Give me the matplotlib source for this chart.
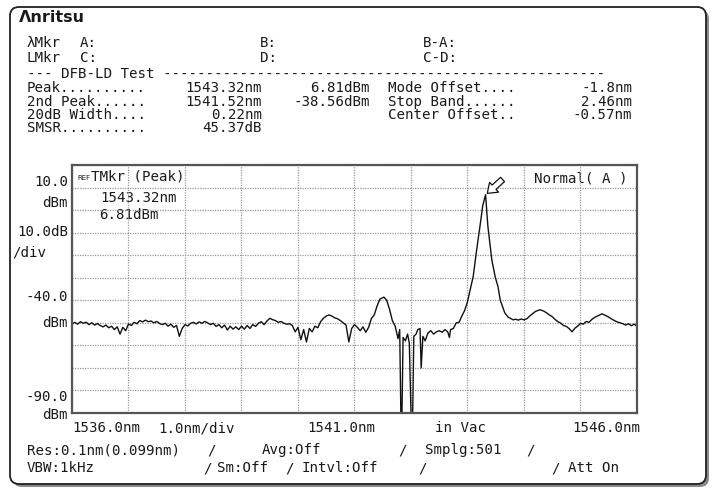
import matplotlib
matplotlib.use("Agg")
import matplotlib.pyplot as plt
from matplotlib.patches import FancyBboxPatch

# ----- Trace (wavelength nm, level dBm) -----
wavelength = [
    1536.00, 1536.05, 1536.10, 1536.15, 1536.20, 1536.25, 1536.30, 1536.35, 1536.40, 1536.45,
    1536.50, 1536.55, 1536.60, 1536.65, 1536.70, 1536.75, 1536.80, 1536.85, 1536.90, 1536.95,
    1537.00, 1537.05, 1537.10, 1537.15, 1537.20, 1537.25, 1537.30, 1537.35, 1537.40, 1537.45,
    1537.50, 1537.55, 1537.60, 1537.65, 1537.70, 1537.75, 1537.80, 1537.85, 1537.90, 1537.95,
    1538.00, 1538.05, 1538.10, 1538.15, 1538.20, 1538.25, 1538.30, 1538.35, 1538.40, 1538.45,
    1538.50, 1538.55, 1538.60, 1538.65, 1538.70, 1538.75, 1538.80, 1538.85, 1538.90, 1538.95,
    1539.00, 1539.05, 1539.10, 1539.15, 1539.20, 1539.25, 1539.30, 1539.35, 1539.40, 1539.45,
    1539.50, 1539.55, 1539.60, 1539.65, 1539.70, 1539.75, 1539.80, 1539.85, 1539.90, 1539.95,
    1540.00, 1540.05, 1540.10, 1540.15, 1540.20, 1540.25, 1540.30, 1540.35, 1540.40, 1540.45,
    1540.50, 1540.55, 1540.60, 1540.65, 1540.70, 1540.75, 1540.80, 1540.85, 1540.90, 1540.95,
    1541.00, 1541.05, 1541.10, 1541.15, 1541.20, 1541.25, 1541.30, 1541.35, 1541.40, 1541.45,
    1541.52, 1541.57, 1541.62, 1541.67, 1541.72, 1541.77, 1541.80, 1541.82, 1541.84, 1541.86,
    1541.90, 1541.94, 1541.97, 1542.00, 1542.03, 1542.05, 1542.09, 1542.12, 1542.16, 1542.18,
    1542.21, 1542.25, 1542.30, 1542.35, 1542.40, 1542.45, 1542.50, 1542.55, 1542.60, 1542.65,
    1542.68, 1542.70, 1542.75, 1542.80, 1542.85, 1542.90, 1542.95, 1543.00, 1543.05, 1543.10,
    1543.16, 1543.22, 1543.27, 1543.32, 1543.36, 1543.43, 1543.49, 1543.54, 1543.58, 1543.66,
    1543.72, 1543.81, 1543.85, 1543.90, 1543.95, 1544.00, 1544.05, 1544.10, 1544.15, 1544.20,
    1544.28, 1544.35, 1544.40, 1544.45, 1544.50, 1544.55, 1544.60, 1544.64, 1544.70, 1544.75,
    1544.80, 1544.85, 1544.90, 1544.95, 1545.00, 1545.05, 1545.10, 1545.15, 1545.20, 1545.25,
    1545.30, 1545.38, 1545.45, 1545.50, 1545.55, 1545.60, 1545.65, 1545.70, 1545.75, 1545.80,
    1545.85, 1545.90, 1545.95, 1546.00,
]
level = [
    -50.5, -49.8, -50.6, -49.5, -50.2, -49.7, -50.8, -50.0, -51.0, -50.3,
    -51.2, -51.8, -51.0, -52.2, -51.5, -53.0, -51.8, -55.0, -52.0, -53.5,
    -50.5, -51.2, -49.8, -50.4, -49.0, -49.6, -48.8, -49.5, -49.2, -50.0,
    -49.4, -50.3, -50.8, -50.2, -51.5, -50.6, -52.0, -51.2, -56.0, -52.5,
    -50.8, -51.4, -50.2, -49.8, -50.5, -49.6, -50.2, -49.4, -50.0, -50.8,
    -50.2, -51.6, -50.8, -52.2, -51.0, -53.2, -51.5, -52.8, -51.8, -53.0,
    -51.5, -52.8, -51.2, -52.5, -50.8, -51.6, -50.2, -49.5, -50.8, -49.2,
    -48.0, -48.6, -49.0, -49.8, -49.4, -50.2, -50.6, -50.4, -51.2, -54.0,
    -52.0, -57.5, -53.0, -58.5, -52.5, -54.0, -51.5, -52.2, -49.5, -48.0,
    -47.0, -46.5, -47.0, -47.8, -48.2, -49.0, -50.0, -51.0, -58.5, -52.5,
    -50.8, -52.0, -53.5, -51.8, -54.2, -52.0, -48.0, -46.5, -42.5, -39.5,
    -38.6, -40.0, -44.0, -49.0, -51.5, -57.0, -53.0, -90.0, -90.0, -56.5,
    -58.0, -55.0, -59.0, -90.0, -90.0, -56.0, -55.0, -53.0, -52.5, -70.0,
    -56.0, -58.0, -54.5, -53.5, -55.0, -54.0, -53.5, -54.2, -53.0, -54.0,
    -56.5, -53.0, -52.5, -50.0, -49.8, -47.0, -44.5, -40.7, -35.0, -29.6,
    -18.0, -7.3, 2.0, 6.81, -7.0, -22.0, -29.6, -34.0, -40.0, -45.6,
    -47.5, -48.7, -48.4, -48.8, -48.3, -48.7, -48.2, -47.0, -46.0, -45.0,
    -44.2, -44.8, -45.6, -46.5, -47.3, -48.5, -49.5, -50.0, -51.2, -51.6,
    -52.6, -54.0, -52.4, -51.5, -50.2, -50.6, -49.4, -49.8, -48.5, -47.6,
    -47.0, -46.0, -46.8, -47.5, -48.3, -49.0, -49.6, -50.0, -50.4, -51.0,
    -50.4, -51.3, -50.6, -51.5,
]
peak_nm = 1543.32
peak_dbm = 6.81

x_grid = [1536, 1537, 1538, 1539, 1540, 1541, 1542, 1543, 1544, 1545, 1546]
y_grid = [-90, -80, -70, -60, -50, -40, -30, -20, -10, 0, 10, 20]

# ----- Header texts -----
mkr_rows = [("λMkr", "A:", "B:", "B-A:"), ("LMkr", "C:", "D:", "C-D:")]
test_rows = ["Peak..........", "2nd Peak......", "20dB Width....", "SMSR.........."]
test_nm = ["1543.32nm", "1541.52nm", "0.22nm", "45.37dB"]
test_dbm = ["6.81dBm", "-38.56dBm", "", ""]
side_rows = ["Mode Offset....", "Stop Band......", "Center Offset.."]
side_vals = ["-1.8nm", "2.46nm", "-0.57nm"]

W, H = 718, 488
MONO = "DejaVu Sans Mono"
FS = 10.2
INK = "#1a1a1a"

fig = plt.figure(figsize=(W / 100, H / 100), dpi=100)
fig.patch.set_facecolor("white")

# background axes in pixel coords for the frame and all the labels
bg = fig.add_axes([0, 0, 1, 1])
bg.set_xlim(0, W)
bg.set_ylim(H, 0)
bg.axis("off")

shadow = FancyBboxPatch((13, 10), 696, 477, boxstyle="round,pad=0,rounding_size=9",
                        fc="#8a8a8a", ec="none", zorder=0)
box = FancyBboxPatch((10, 7), 696, 477, boxstyle="round,pad=0,rounding_size=9",
                     fc="white", ec="#222222", lw=1.3, zorder=0.5)
bg.add_patch(shadow)
bg.add_patch(box)


def t(x, y, s, ha="left", size=FS, **kw):
    bg.text(x, y, s, ha=ha, va="center", fontsize=size, family=MONO, color=INK, **kw)


# logo
bg.text(19, 17, "Λnritsu", ha="left", va="center", fontsize=11.5, fontweight="bold",
        family="DejaVu Sans", color=INK)

# marker rows
for (lab, a, b, c), y in zip(mkr_rows, [43, 58]):
    t(27, y, lab)
    t(80, y, a)
    t(260, y, b)
    t(423, y, c)

t(27, 74, "--- DFB-LD Test " + "-" * 52)

for i, y in enumerate([88, 102, 115, 128]):
    t(27, y, test_rows[i])
    t(262, y, test_nm[i], ha="right")
    if test_dbm[i]:
        t(370, y, test_dbm[i], ha="right")
for i, y in enumerate([88, 102, 115]):
    t(388, y, side_rows[i])
    t(632, y, side_vals[i], ha="right")

# left scale labels
t(68, 182, "10.0", ha="right")
t(68, 203, "dBm", ha="right")
t(68, 232, "10.0dB", ha="right")
t(12, 252, "/div")
t(68, 297, "-40.0", ha="right")
t(68, 323, "dBm", ha="right")
t(68, 397, "-90.0", ha="right")
t(68, 415, "dBm", ha="right")

# bottom scale labels
t(72, 428, "1536.0nm")
t(158, 428, "1.0nm/div")
t(307, 428, "1541.0nm")
t(435, 428, "in Vac")
t(640, 428, "1546.0nm", ha="right")

# settings rows
for x, s in [(27, "Res:0.1nm(0.099nm)"), (207, "/"), (262, "Avg:Off"),
             (398, "/"), (425, "Smplg:501"), (526, "/")]:
    t(x, 450, s)
for x, s in [(27, "VBW:1kHz"), (203, "/"), (217, "Sm:Off"), (285, "/"),
             (302, "Intvl:Off"), (418, "/"), (551, "/"), (568, "Att On")]:
    t(x, 468, s)

# ----- Spectrum graticule -----
ax = fig.add_axes([72 / W, (H - 413) / H, 565 / W, 248 / H])
ax.set_facecolor("none")
ax.set_xlim(1536, 1546)
ax.set_ylim(-90, 20)
ax.set_xticks(x_grid)
ax.set_yticks(y_grid)
ax.tick_params(length=0, labelbottom=False, labelleft=False)
ax.grid(True, color="#9a9a9a", linestyle=(0, (1, 1)), linewidth=0.9)
for sp in ax.spines.values():
    sp.set_color("#555555")
    sp.set_linewidth(1.6)

ax.plot(wavelength, level, color="#111111", linewidth=1.0)

# peak marker arrow (hollow, pointing down-left onto the peak)
ax.annotate("", xy=(peak_nm + 0.03, peak_dbm + 0.6), xytext=(11, 10), textcoords="offset points",
            arrowprops=dict(arrowstyle="simple,head_width=0.8,head_length=0.55,tail_width=0.35",
                            mutation_scale=12, shrinkA=0, shrinkB=0,
                            fc="white", ec="#111111", lw=0.9))

# texts inside the graticule
bg.text(77, 178, "REF", ha="left", va="center", fontsize=5, family="DejaVu Sans",
        color=INK, zorder=5)
t(91, 176, "TMkr (Peak)", zorder=5)
t(100, 198, "1543.32nm", zorder=5)
t(99, 215, "6.81dBm", zorder=5)
t(627, 179, "Normal( A )", ha="right", zorder=5)

# labels above the graticule, frame box behind everything
bg.set_zorder(2)
ax.set_zorder(3)

fig.savefig("out.png", dpi=100)
